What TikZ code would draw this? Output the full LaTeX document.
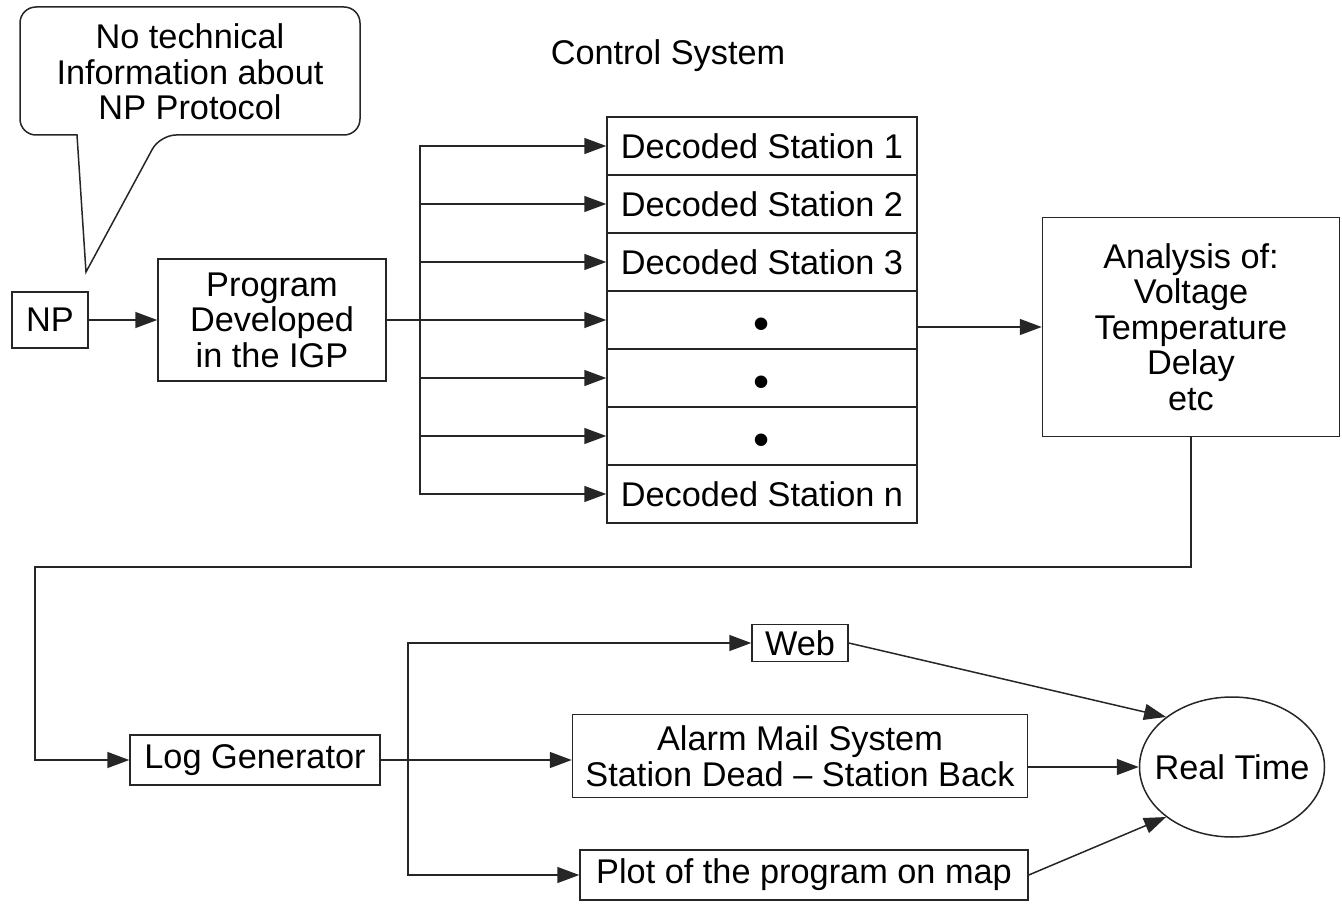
\documentclass[tikz,border=0pt]{standalone}
\usepackage{fontspec}
\setmainfont{Liberation Sans}
\usetikzlibrary{shapes.geometric, arrows.meta, positioning}

\begin{document}
\begin{tikzpicture}[x=1pt, y=-1pt, line width=1.5pt, every node/.style={font=\fontsize{34.3}{35.5}\selectfont, inner sep=2pt}]
\tikzstyle{block} = [rectangle, draw=black!85, line width=1.5pt, align=center]
\tikzstyle{row} = [block, minimum width=310pt, minimum height=58pt]
\tikzstyle{dot} = [font=\fontsize{46}{46}\selectfont, text height=38pt, text depth=0pt]
\tikzstyle{arr} = [draw=black!85, -{Triangle[length=22pt, width=16pt]}]

\useasboundingbox (0,0) rectangle (1342,904);

% speech bubble
\draw[draw=black!85] (77,135) [rounded corners=16pt] -- (20,135) -- (20,7) -- (360,7) -- (360,135) -- (160,135) [sharp corners] -- (86,272) -- cycle;
\node[align=center] (note) at (190,72) {No technical\\Information about\\NP Protocol};

\node (title) at (668,56) {Control System};

\node[block, minimum width=76pt, minimum height=56pt] (np) at (50,320) {NP};
\node[block, minimum width=228pt, minimum height=122pt] (prog) at (272,320) {Program\\Developed\\in the IGP};

\node[row] (st1) at (762,146) {Decoded Station 1};
\node[row] (st2) at (762,204) {Decoded Station 2};
\node[row] (st3) at (762,262) {Decoded Station 3};
\node[row, dot] (st4) at (762,320) {\textbullet};
\node[row, dot] (st5) at (762,378) {\textbullet};
\node[row, dot] (st6) at (762,436) {\textbullet};
\node[row] (st7) at (762,494) {Decoded Station n};

\node[block, minimum width=297pt, minimum height=219pt] (ana) at (1191,327) {Analysis of:\\Voltage\\Temperature\\Delay\\etc};

\node[block, minimum width=250pt, minimum height=50pt] (loggen) at (255,760) {Log Generator};
\node[block, minimum width=96pt, minimum height=37pt] (web) at (800,643) {Web};
\node[block, minimum width=455pt, minimum height=83pt] (alarm) at (800,756) {Alarm Mail System\\Station Dead \textendash{} Station Back};
\node[block, minimum width=448pt, minimum height=50pt] (plot) at (804,875) {Plot of the program on map};
\node[ellipse, draw=black!85, minimum width=185pt, minimum height=140pt, inner sep=0pt, label=center:Real Time] (rt) at (1232,767) {};

\coordinate (tr1) at (420,320);
\coordinate (bend) at (35,567);
\coordinate (tr2) at (408,760);

\draw[arr] (np) -- (prog);
\draw[draw=black!85] (prog.east) -- (tr1);
\draw[arr] (tr1) |- (st1.west);
\draw[arr] (tr1) |- (st2.west);
\draw[arr] (tr1) |- (st3.west);
\draw[arr] (tr1) |- (st4.west);
\draw[arr] (tr1) |- (st5.west);
\draw[arr] (tr1) |- (st6.west);
\draw[arr] (tr1) |- (st7.west);
\draw[arr] (st4.east |- ana) -- (ana);

\draw[arr] (ana.south) |- (bend) |- (loggen.west);
\draw[arr] (loggen) -- (loggen -| alarm.west);
\draw[arr] (tr2) |- (web.west);
\draw[arr] (tr2) |- (plot.west);

\draw[arr] (web.east) -- (rt.north west);
\draw[arr] (alarm.east |- rt) -- (rt.west);
\draw[arr] (plot.east) -- (rt.south west);

\end{tikzpicture}
\end{document}
